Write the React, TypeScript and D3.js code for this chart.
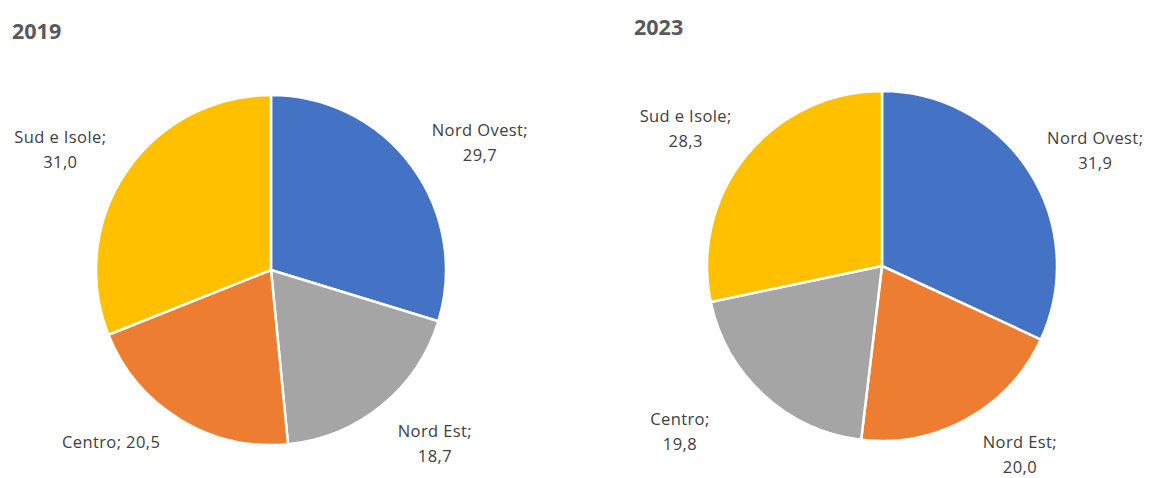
import React, { useEffect } from "react";
import * as d3 from "d3";

const regions2019 = ["Nord Ovest", "Nord Est", "Centro", "Sud e Isole"];
const values2019 = [29.7, 18.7, 20.5, 31.0];
const colors2019 = ["#4472C4", "#A5A5A5", "#ED7D31", "#FFC000"];
const nudges2019: [number, number, boolean][] = [[16, 14, false], [12, -13, false], [-35, -33, true], [-12, 13, false]];

const regions2023 = ["Nord Ovest", "Nord Est", "Centro", "Sud e Isole"];
const values2023 = [31.9, 20.0, 19.8, 28.3];
const colors2023 = ["#4472C4", "#ED7D31", "#A5A5A5", "#FFC000"];
const nudges2023: [number, number, boolean][] = [[11, 13, false], [21, -22, false], [-40, -13, false], [-10, 13, false]];

const fmt = (v: number) => v.toFixed(1).replace(".", ",");
const FONT = "'Open Sans', 'Liberation Sans', sans-serif";
const LABEL_SIZE = 16.5;

function Pie({ title, titleX, titleY, cx, cy, r, regions, values, colors, nudges }: any) {
  const pie = d3.pie<number>().sort(null).value((d) => d)(values);
  const arc = d3.arc<d3.PieArcDatum<number>>().innerRadius(0).outerRadius(r);
  const labelR = 240;
  return (
    <g>
      <text x={titleX} y={titleY} fontFamily={FONT} fontWeight="bold" fontSize={21.5} fill="#595959">{title}</text>
      <g transform={`translate(${cx},${cy})`}>
        {pie.map((p, i) => (
          <path key={i} d={arc(p) || ""} fill={colors[i]} stroke="#fff" strokeWidth={2.5} strokeLinejoin="round" />
        ))}
        {pie.map((p, i) => {
          const mid = (p.startAngle + p.endAngle) / 2;
          const x = labelR * Math.sin(mid) + nudges[i][0];
          const y = -labelR * Math.cos(mid) + nudges[i][1];
          const single = nudges[i][2];
          return single ? (
            <text key={"l" + i} x={x} y={y} textAnchor="middle" dominantBaseline="central" fontFamily={FONT} fontSize={LABEL_SIZE} letterSpacing={0.4} fill="#404040">
              {regions[i] + "; " + fmt(values[i])}
            </text>
          ) : (
            <text key={"l" + i} textAnchor="middle" dominantBaseline="central" fontFamily={FONT} fontSize={LABEL_SIZE} letterSpacing={0.4} fill="#404040">
              <tspan x={x} y={y - 12.5}>{regions[i] + ";"}</tspan>
              <tspan x={x} y={y + 12.5}>{fmt(values[i])}</tspan>
            </text>
          );
        })}
      </g>
    </g>
  );
}

export default function App() {
  useEffect(() => {
    document.body.style.margin = "0";
  }, []);
  return (
    <svg width={1153} height={478} style={{ display: "block", background: "#fff" }}>
      <Pie title="2019" titleX={12} titleY={39} cx={271} cy={270} r={175}
        regions={regions2019} values={values2019} colors={colors2019} nudges={nudges2019} />
      <Pie title="2023" titleX={634} titleY={35} cx={882} cy={266} r={175}
        regions={regions2023} values={values2023} colors={colors2023} nudges={nudges2023} />
    </svg>
  );
}
